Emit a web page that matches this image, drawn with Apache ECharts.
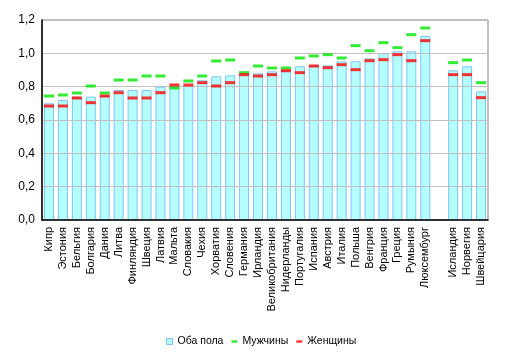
<!DOCTYPE html>
<html><head><meta charset="utf-8">
<script src="https://cdn.jsdelivr.net/npm/echarts@6/dist/echarts.min.js"></script>
<style>html,body{margin:0;padding:0;background:#fff}#c{width:514px;height:356px}</style>
</head><body><div id="c"></div>
<script>
const categories = ['Кипр','Эстония','Бельгия','Болгария','Дания','Литва','Финляндия','Швеция','Латвия','Мальта','Словакия','Чехия','Хорватия','Словения','Германия','Ирландия','Великобритания','Нидерланды','Португалия','Испания','Австрия','Италия','Польша','Венгрия','Франция','Греция','Румыния','Люксембург','','Исландия','Норвегия','Швейцария'];
const both = [0.70,0.72,0.74,0.74,0.744,0.78,0.78,0.78,0.80,0.80,0.804,0.838,0.862,0.868,0.88,0.88,0.892,0.892,0.922,0.928,0.928,0.952,0.952,0.97,1.0,1.012,1.012,1.104,null,0.898,0.922,0.772];
const men = [0.744,0.75,0.762,0.804,0.762,0.84,0.84,0.864,0.864,0.792,0.834,0.864,0.954,0.96,0.884,0.924,0.912,0.912,0.972,0.984,0.992,0.972,1.046,1.016,1.064,1.034,1.112,1.152,null,0.944,0.96,0.824];
const women = [0.684,0.684,0.732,0.704,0.744,0.764,0.732,0.732,0.764,0.81,0.81,0.824,0.804,0.824,0.872,0.864,0.872,0.896,0.884,0.924,0.914,0.932,0.902,0.956,0.962,0.992,0.956,1.076,null,0.872,0.872,0.734];
const yTicks = ['0,0','0,2','0,4','0,6','0,8','1,0','1,2'];

const font = 'Liberation Sans, Arial, sans-serif';
const chart = echarts.init(document.getElementById('c'), null, {renderer:'canvas'});
chart.setOption({
  animation:false,
  textStyle:{fontFamily:font},
  grid:{left:42,right:26,top:20,bottom:136,show:true,borderColor:'#808080',borderWidth:1,backgroundColor:'transparent'},
  legend:{
    left:161, top:331, itemWidth:6, itemHeight:6, itemGap:8,
    textStyle:{fontFamily:font,fontSize:10.5,color:'#000'},
    data:[
      {name:'Оба пола',icon:'rect',itemStyle:{color:'#b5ffff',borderColor:'#7fc4f5',borderWidth:1}},
      {name:'Мужчины',icon:'path://M0,0h10v4h-10z'},
      {name:'Женщины',icon:'path://M0,0h10v4h-10z'}
    ]
  },
  xAxis:{
    type:'category', data:categories, boundaryGap:true, z:5,
    axisLine:{show:true,lineStyle:{color:'#000',width:1.5}},
    axisTick:{show:false},
    axisLabel:{rotate:90,interval:0,fontSize:11,color:'#000',margin:7,fontFamily:font},
    splitLine:{show:false}
  },
  yAxis:{
    type:'value', min:0, max:1.2, interval:0.2, z:5,
    axisLine:{show:true,lineStyle:{color:'#000',width:1.5}},
    axisTick:{show:false},
    axisLabel:{fontSize:12,color:'#000',margin:7,fontFamily:font,formatter:(v)=>yTicks[Math.round(v/0.2)]},
    splitLine:{show:true,lineStyle:{color:'#c0c0c0',width:1}}
  },
  series:[
    {name:'Оба пола',type:'bar',data:both,barWidth:10,
     itemStyle:{color:'#b5ffff',borderColor:'#7fc4f5',borderWidth:1}},
    {name:'Мужчины',type:'scatter',data:men,symbol:'rect',symbolSize:[10,3],
     itemStyle:{color:'#00e600'},z:6},
    {name:'Женщины',type:'scatter',data:women,symbol:'rect',symbolSize:[10,3],
     itemStyle:{color:'#ff0000'},z:7}
  ]
});
</script></body></html>
